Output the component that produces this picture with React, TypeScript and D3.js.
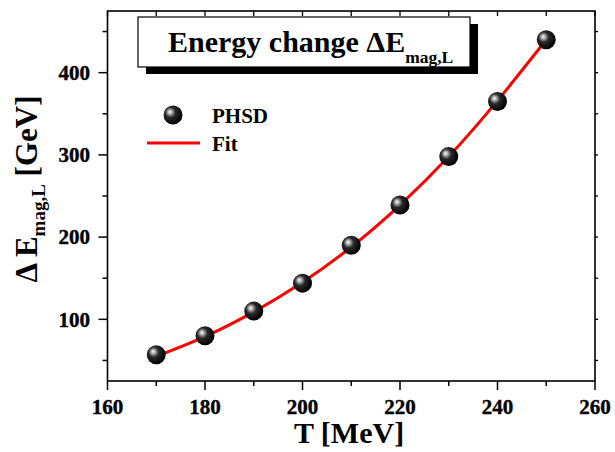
import React from "react";
import * as d3 from "d3";

const temps = [170, 180, 190, 200, 210, 220, 230, 240, 250];
const energies = [57, 80, 110, 144, 190, 239, 298, 365, 440];
const fitT = [170, 180, 190, 200, 210, 220, 230, 240, 250];
const fitE = [55, 79, 109, 145, 188, 239, 298, 366, 440];
const xTicks = [160, 180, 200, 220, 240, 260];
const xMinor = [170, 190, 210, 230, 250];
const yTicks = [100, 200, 300, 400];
const yMinor = [50, 150, 250, 350, 450];

const W = 615, H = 452;
const L = 107.5, R = 595, T = 11, B = 381;

export default function App() {
  const x = d3.scaleLinear().domain([160, 260]).range([L, R]);
  const y = d3.scaleLinear().domain([25, 475]).range([B, T]);
  const line = d3
    .line<number>()
    .x((_, i) => x(fitT[i]))
    .y((d) => y(d))
    .curve(d3.curveNatural);
  const font = "'Liberation Serif', 'Times New Roman', serif";
  return (
    <div style={{ position: "absolute", left: 0, top: 0 }}>
      <svg width={W} height={H} style={{ display: "block", background: "#fff" }} fontFamily={font} fontWeight="bold">
        <defs>
          <radialGradient id="ball" cx="0.4" cy="0.4" r="0.6" fx="0.33" fy="0.33">
            <stop offset="0" stopColor="#ffffff" />
            <stop offset="0.18" stopColor="#b0b0b0" />
            <stop offset="0.45" stopColor="#2a2a2a" />
            <stop offset="1" stopColor="#000000" />
          </radialGradient>
        </defs>
        {/* frame */}
        <rect x={L} y={T} width={R - L} height={B - T} fill="none" stroke="#000" strokeWidth={1.6} />
        {xTicks.map((t) => (
          <line key={"xb" + t} x1={x(t)} x2={x(t)} y1={B} y2={B + 9} stroke="#000" strokeWidth={1.5} />
        ))}
        {xMinor.map((t) => (
          <line key={"xbm" + t} x1={x(t)} x2={x(t)} y1={B} y2={B + 5} stroke="#000" strokeWidth={1.5} />
        ))}
        {xTicks.concat(xMinor).map((t) => (
          <line key={"xt" + t} x1={x(t)} x2={x(t)} y1={T} y2={T + 5} stroke="#000" strokeWidth={1.3} />
        ))}
        {yTicks.map((t) => (
          <line key={"yl" + t} x1={L - 9} x2={L} y1={y(t)} y2={y(t)} stroke="#000" strokeWidth={1.5} />
        ))}
        {yMinor.map((t) => (
          <line key={"ylm" + t} x1={L - 5} x2={L} y1={y(t)} y2={y(t)} stroke="#000" strokeWidth={1.5} />
        ))}
        {yTicks.concat(yMinor).map((t) => (
          <line key={"yr" + t} x1={R} x2={R + 3} y1={y(t)} y2={y(t)} stroke="#000" strokeWidth={1.3} />
        ))}
        {/* tick labels */}
        {xTicks.map((t) => (
          <text key={"xl" + t} x={x(t)} y={414} textAnchor="middle" fontSize={21} stroke="#000" strokeWidth={0.4}>
            {t}
          </text>
        ))}
        {yTicks.map((t) => (
          <text key={"ytl" + t} x={90} y={y(t)} dy="0.35em" textAnchor="end" fontSize={21} stroke="#000" strokeWidth={0.4}>
            {t}
          </text>
        ))}
        {/* axis titles */}
        <text x={349} y={443} textAnchor="middle" fontSize={30}>
          T [MeV]
        </text>
        <text transform="translate(37,189) rotate(-90)" textAnchor="middle" fontSize={31}>
          <tspan>Δ E</tspan>
          <tspan fontSize={19} dy={8}>mag,L</tspan>
          <tspan dy={-8}> [GeV]</tspan>
        </text>
        {/* fit line */}
        <path d={line(fitE) || ""} fill="none" stroke="#ff0000" strokeWidth={3} />
        {/* points */}
        {temps.map((t, i) => (
          <circle key={"p" + t} cx={x(t)} cy={y(energies[i])} r={9.5} fill="url(#ball)" />
        ))}
        {/* title box */}
        <rect x={146} y={24} width={332} height={50} fill="#000" />
        <rect x={138} y={17} width={332} height={50} fill="#fff" stroke="#000" strokeWidth={1.2} />
        <text x={168} y={52} fontSize={30}>
          <tspan>Energy change ΔE</tspan>
          <tspan fontSize={17.5} dy={11}>mag,L</tspan>
        </text>
        {/* legend */}
        <circle cx={173} cy={115} r={9.5} fill="url(#ball)" />
        <text x={212} y={123} fontSize={21}>PHSD</text>
        <line x1={147} x2={200} y1={143} y2={143} stroke="#ff0000" strokeWidth={3} />
        <text x={212} y={151} fontSize={21}>Fit</text>
      </svg>
    </div>
  );
}
